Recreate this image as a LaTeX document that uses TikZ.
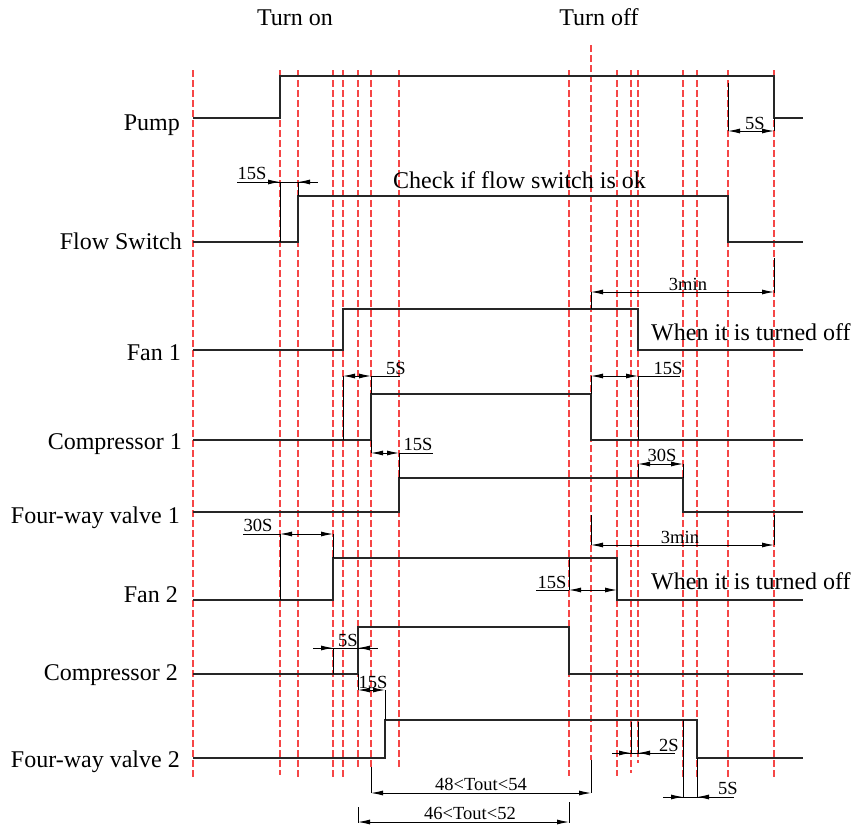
\documentclass[tikz,border=0pt]{standalone}
\usepackage{fontspec}
\setmainfont{Liberation Serif}
\usetikzlibrary{arrows.meta}
\definecolor{gridred}{RGB}{245,70,70}
\begin{document}
\begin{tikzpicture}[x=1pt,y=-1pt,
  sig/.style={line width=1.2pt, black!85, line join=miter},
  gridline/.style={gridred, line width=1.15pt, dash pattern=on 7pt off 3pt},
  dimline/.style={line width=0.9pt, black},
  dimarr/.style={dimline, {Latex[length=12pt,width=5pt]}-{Latex[length=12pt,width=5pt]}},
  onearr/.style={dimline, -{Latex[length=12pt,width=5pt]}},
  ext/.style={line width=0.9pt, black},
  lbl/.style={font=\fontsize{24}{28}\selectfont, inner sep=0pt},
  dl/.style={font=\fontsize{18.5}{20}\selectfont, inner sep=0pt, anchor=base}]
\useasboundingbox (0,0) rectangle (855,827);
% grid lines
\foreach \x/\b in {193/780,280/775,298/777,333/778,343/778,358/770,371/767,399/770,569/776,617/776,631/773,638/763,683/778,697/778,728/778,774/780}
  \draw[gridline] (\x,70) -- (\x,\b);
\draw[gridline] (591,45) -- (591,760);
% titles
\node[lbl, anchor=base] (ton) at (295,25) {Turn on};
\node[lbl, anchor=base] (toff) at (599,25) {Turn off};
% left labels
\node[lbl, anchor=base east] (lpump) at (180,130) {Pump};
\node[lbl, anchor=base east] (lflow) at (182,249) {Flow Switch};
\node[lbl, anchor=base east] (lfan1) at (181,360) {Fan 1};
\node[lbl, anchor=base east] (lcomp1) at (182,449) {Compressor 1};
\node[lbl, anchor=base east] (lfwv1) at (180,523) {Four-way valve 1};
\node[lbl, anchor=base east] (lfan2) at (178,602) {Fan 2};
\node[lbl, anchor=base east] (lcomp2) at (178,680) {Compressor 2};
\node[lbl, anchor=base east] (lfwv2) at (180,767) {Four-way valve 2};
% signals
\draw[sig] (193,118) -- (280,118) -- (280,76) -- (774,76) -- (774,118) -- (803,118);
\draw[sig] (193,242) -- (298,242) -- (298,196) -- (728,196) -- (728,242) -- (803,242);
\draw[sig] (193,350) -- (343,350) -- (343,309) -- (638,309) -- (638,350) -- (803,350);
\draw[sig] (193,440) -- (371,440) -- (371,394) -- (591,394) -- (591,440) -- (803,440);
\draw[sig] (193,512) -- (399,512) -- (399,478) -- (683,478) -- (683,512) -- (803,512);
\draw[sig] (193,600) -- (333,600) -- (333,558) -- (617,558) -- (617,600) -- (803,600);
\draw[sig] (193,674) -- (358,674) -- (358,627) -- (569,627) -- (569,674) -- (803,674);
\draw[sig] (193,758) -- (385,758) -- (385,720) -- (697,720) -- (697,758) -- (803,758);
% texts
\node[lbl, anchor=base west] (chk) at (393,188) {Check if flow switch is ok};
\node[lbl, anchor=base west] (off1) at (651,340) {When it is turned off};
\node[lbl, anchor=base west] (off2) at (651,589) {When it is turned off};
% 1 pump 5S
\draw[ext] (728,83) -- (728,131);
\draw[ext] (774,118) -- (774,131);
\draw[dimarr] (728,131) -- (774,131);
\node[dl] (d1) at (755,129) {5S};
% 2 flow 15S
\draw[ext] (280,182) -- (280,242);
\draw[ext] (298,182) -- (298,196);
\draw[dimline] (237,182) -- (318,182);
\draw[onearr] (264,182) -- (280,182);
\draw[onearr] (314,182) -- (298,182);
\node[dl] (d2) at (252,179) {15S};
% 3 3min top
\draw[ext] (591,292) -- (591,309);
\draw[ext] (774,258) -- (774,293);
\draw[dimarr] (591,292) -- (774,292);
\node[dl] (d3) at (688,290) {3min};
% 4 comp1 5S
\draw[ext] (343,376) -- (343,440);
\draw[ext] (371,376) -- (371,394);
\draw[dimarr] (343,376) -- (371,376);
\draw[dimline] (371,376) -- (400,376);
\node[dl] (d4) at (396,374) {5S};
% 5 comp1 15S off
\draw[ext] (591,376) -- (591,394);
\draw[ext] (638,376) -- (638,440);
\draw[dimarr] (591,376) -- (638,376);
\draw[dimline] (638,376) -- (680,376);
\node[dl] (d5) at (668,374) {15S};
% 6 fwv1 15S
\draw[ext] (371,440) -- (371,453);
\draw[ext] (399,453) -- (399,478);
\draw[dimarr] (371,453) -- (399,453);
\draw[dimline] (399,453) -- (433,453);
\node[dl] (d6) at (418,450) {15S};
% 7 fwv1 30S
\draw[ext] (638,464) -- (638,478);
\draw[ext] (683,464) -- (683,478);
\draw[dimarr] (638,464) -- (683,464);
\node[dl] (d7) at (662,461) {30S};
% 8 fan2 30S
\draw[ext] (280,534) -- (280,600);
\draw[ext] (333,534) -- (333,558);
\draw[dimline] (243,534) -- (280,534);
\draw[dimarr] (280,534) -- (333,534);
\node[dl] (d8) at (258,531) {30S};
% 9 3min second
\draw[ext] (591,515) -- (591,545);
\draw[ext] (774,515) -- (774,545);
\draw[dimarr] (591,545) -- (774,545);
\node[dl] (d9) at (680,543) {3min};
% 10 fan2 15S off
\draw[ext] (569,558) -- (569,590);
\draw[dimline] (536,590) -- (569,590);
\draw[dimarr] (569,590) -- (617,590);
\node[dl] (d10) at (552,588) {15S};
% 11 comp2 5S
\draw[ext] (333,648) -- (333,674);
\draw[dimline] (313,648) -- (378,648);
\draw[onearr] (317,648) -- (333,648);
\draw[onearr] (374,648) -- (358,648);
\node[dl] (d11) at (348,646) {5S};
% 12 fwv2 15S
\draw[ext] (358,674) -- (358,690);
\draw[ext] (385,690) -- (385,720);
\draw[dimarr] (358,690) -- (385,690);
\node[dl] (d12) at (373,688) {15S};
% 13 2S
\draw[ext] (631,722) -- (631,753);
\draw[ext] (638,722) -- (638,753);
\draw[dimline] (612,753) -- (675,753);
\draw[onearr] (615,753) -- (631,753);
\draw[onearr] (654,753) -- (638,753);
\node[dl] (d13) at (669,751) {2S};
% 14 bottom 5S
\draw[ext] (683,720) -- (683,797);
\draw[ext] (697,758) -- (697,797);
\draw[dimline] (663,797) -- (734,797);
\draw[onearr] (667,797) -- (683,797);
\draw[onearr] (713,797) -- (697,797);
\node[dl] (d14) at (728,794) {5S};
% 15 48<Tout<54
\draw[ext] (371,767) -- (371,793);
\draw[ext] (591,760) -- (591,793);
\draw[dimarr] (371,793) -- (591,793);
\node[dl] (d15) at (481,790) {48<Tout<54};
% 16 46<Tout<52
\draw[ext] (358,807) -- (358,823);
\draw[ext] (569,802) -- (569,823);
\draw[dimarr] (358,822) -- (569,822);
\node[dl] (d16) at (470,819) {46<Tout<52};
\end{tikzpicture}
\end{document}
